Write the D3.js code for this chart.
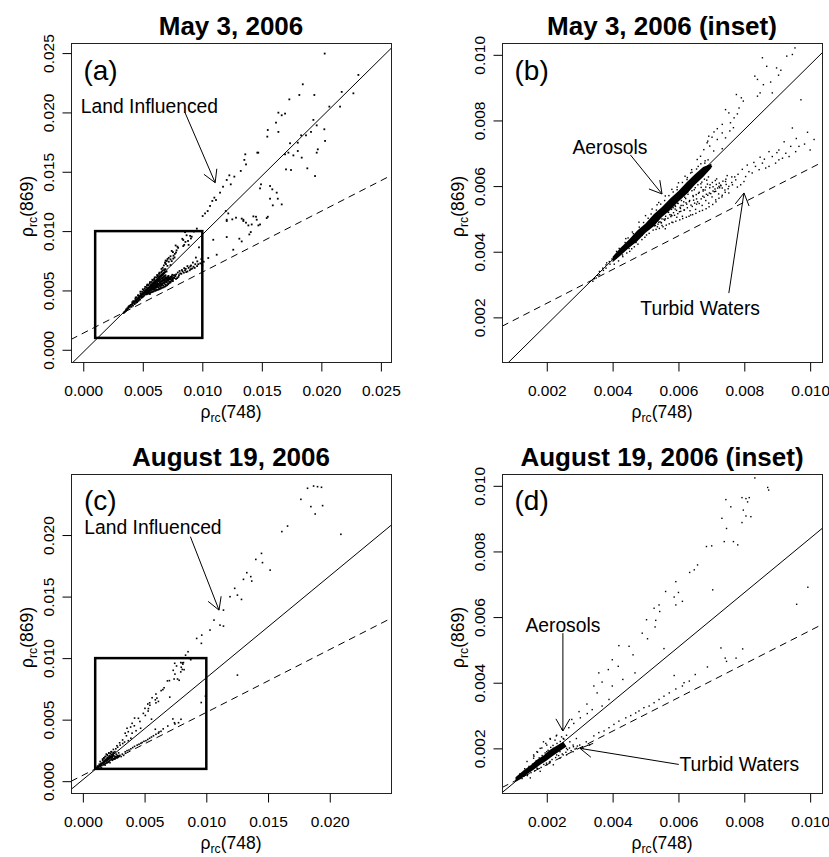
<!doctype html>
<html lang="en">
<head>
<meta charset="utf-8">
<title>rho_rc(748) vs rho_rc(869)</title>
<script src="https://cdnjs.cloudflare.com/ajax/libs/d3/7.8.5/d3.min.js"></script>
<style>
  body { margin: 0; background: #fff; }
  svg text { font-family: "Liberation Sans", Arial, sans-serif; fill: #000; }
</style>
</head>
<body>
<svg id="chart" width="829" height="857"></svg>
<script>

// ---- data ----

// tick values
const fullTicksMay = [0, 0.005, 0.010, 0.015, 0.020, 0.025]
const fullTicksAug = [0, 0.005, 0.010, 0.015, 0.020]
const insetTicks = [0.002, 0.004, 0.006, 0.008, 0.010]

// axis ranges
const domainMay = [-0.00103, 0.02585]
const domainAug = [-0.00096, 0.02496]
const domainInset = [0.00064, 0.01036]

// square drawn on the full views = area of the inset
const insetBox = [0.001, 0.010]

// fitted lines [slope, intercept]: solid = aerosol, dashed = turbid water
const may3Solid = [0.99, -0.0002]
const may3Dashed = [0.514, 0.0014]
const aug19Solid = [0.828, 0.00012]
const aug19Dashed = [0.511, 0.00048]

// outline of the saturated part of the dense cluster
const may3Core = [
  [0.0040,0.00385],[0.00425,0.00413],[0.0045,0.00437],[0.00475,0.00465],[0.0050,0.00486],
  [0.00525,0.00514],[0.0055,0.00536],[0.00575,0.00562],[0.0060,0.00585],[0.00625,0.00612],
  [0.0065,0.00636],[0.00675,0.00658],[0.0070,0.00668],
  [0.0070,0.00655],[0.00675,0.00628],[0.0065,0.00604],[0.00625,0.00576],[0.0060,0.00553],
  [0.00575,0.00527],[0.0055,0.00506],[0.00525,0.00478],[0.0050,0.00458],[0.00475,0.00432],
  [0.0045,0.00412],[0.00425,0.00389],[0.0040,0.00368]
]
const aug19Core = [
  [0.00105,0.00112],[0.0013,0.00133],[0.0015,0.00148],[0.0017,0.00165],[0.0019,0.00178],
  [0.0021,0.00196],[0.0023,0.00208],[0.0025,0.00220],
  [0.0026,0.00206],[0.0024,0.00192],[0.0022,0.00178],[0.0020,0.00163],[0.0018,0.00150],
  [0.0016,0.00135],[0.0014,0.00121],[0.0012,0.00106],[0.00105,0.00098]
]

// individual pixels [rho748, rho869]
const may3Points = [
  // land influenced, outside the inset
  [0.02028,0.02496],[0.02311,0.02316],[0.01844,0.02237],[0.01815,0.02147],[0.01941,0.02147],
  [0.02171,0.02173],[0.02269,0.02161],[0.01731,0.0211],[0.02067,0.02049],[0.02157,0.02049],
  [0.01639,0.01998],[0.01695,0.0199],[0.01667,0.01976],[0.01933,0.01937],[0.01961,0.01891],
  [0.01913,0.01836],[0.02025,0.01858],[0.02031,0.0176],[0.01619,0.01914],[0.0155,0.01852],
  [0.01639,0.01836],[0.01546,0.01796],[0.0183,0.01807],[0.01871,0.01807],[0.01802,0.01745],
  [0.01737,0.0174],[0.01723,0.01661],[0.01765,0.01638],[0.01802,0.01675],[0.01835,0.01619],
  [0.01695,0.01647],[0.0197,0.01689],[0.01961,0.01661],[0.01882,0.01529],[0.01703,0.0152],
  [0.01745,0.01515],[0.01947,0.01464],[0.01361,0.01647],[0.01353,0.016],[0.01367,0.01562],
  [0.01462,0.01661],[0.0147,0.01661],[0.01323,0.01507],[0.01269,0.01459],[0.01227,0.0147],
  [0.01205,0.01431],[0.01239,0.01394],[0.01174,0.01374],[0.01493,0.01394],[0.01485,0.0136],
  [0.01569,0.0138],[0.01588,0.01352],[0.01625,0.01324],[0.01569,0.01273],[0.01592,0.01217],
  [0.01667,0.01225],[0.01634,0.01273],[0.01149,0.01324],[0.01101,0.01282],[0.01084,0.01254],
  [0.01115,0.01262],[0.01065,0.01212],[0.01045,0.01169],[0.01023,0.01149],[0.01003,0.01127],
  [0.01197,0.01169],[0.01218,0.01149],[0.01252,0.01099],[0.01205,0.01085],[0.01283,0.01113],
  [0.01331,0.01105],[0.01345,0.01085],[0.01367,0.01071],[0.01387,0.01048],[0.01415,0.01056],
  [0.01451,0.01121],[0.01471,0.01048],[0.01485,0.01056],[0.01407,0.00992],[0.01395,0.00972],
  [0.0155,0.01121],[0.01205,0.0095],[0.01311,0.00936],[0.01331,0.00913],[0.01205,0.01096],
  [0.0126,0.00843],[0.01092,0.00927],[0.01121,0.00801],[0.0105,0.00773],[0.01541,0.0111],
  [0.01429,0.01124],[0.01457,0.01096],[0.01345,0.01096],
  // upper part of the inset
  [0.00954,0.01021],[0.00929,0.00996],[0.00946,0.01001],[0.00855,0.00991],[0.00868,0.00965],
  [0.00898,0.0096],[0.00911,0.00953],[0.00904,0.00938],[0.0088,0.00917],[0.00832,0.00935],
  [0.0084,0.00925],[0.00858,0.00909],[0.00848,0.00884],[0.0084,0.00874],[0.00885,0.00884],
  [0.00776,0.00879],[0.00791,0.00869],[0.00797,0.00859],[0.00784,0.00838],[0.00743,0.00833],
  [0.00753,0.00823],[0.00779,0.0082],[0.00769,0.00808],[0.00758,0.00793],[0.00767,0.00778],
  [0.00756,0.00768],[0.00733,0.00762],[0.00743,0.00747],[0.00718,0.00742],[0.00702,0.00749],
  [0.00689,0.00737],[0.00695,0.00722],[0.00707,0.00707],[0.00733,0.00714],
  [0.00692,0.00752],[0.00708,0.00765],[0.00718,0.00775],[0.00733,0.00788],[0.00687,0.00732],
  [0.00677,0.00711],[0.00667,0.00691],[0.00657,0.00681],
  [0.00535,0.00543],[0.00566,0.00538],[0.00596,0.00589],[0.00626,0.0062],[0.00637,0.0064],
  // turbid water branch
  [0.00992,0.00764],[0.00972,0.00863],[0.00946,0.00777],[0.0100,0.0071],[0.00966,0.00721],
  [0.00956,0.00705],[0.00941,0.00721],[0.00936,0.0069],[0.00926,0.007],[0.00916,0.00685],
  [0.00905,0.0068],[0.00895,0.0067],[0.00885,0.0069],[0.00875,0.0066],[0.00865,0.00655],
  [0.00855,0.0067],[0.00845,0.0065],[0.00834,0.0066],[0.00824,0.0064],[0.00814,0.00644],
  [0.00804,0.00629],[0.00799,0.00614],[0.00789,0.00604],[0.00774,0.00619],[0.00764,0.00604],
  [0.00753,0.00599],[0.00743,0.00614],[0.00733,0.00594],[0.00723,0.00599],[0.00713,0.00584],
  [0.00905,0.0071],[0.00875,0.00705],[0.00921,0.00735],[0.00861,0.00682],[0.00829,0.00672],
  [0.00794,0.00651],[0.00781,0.00636],[0.00809,0.00664],[0.00762,0.00628],[0.00748,0.00632],
  [0.01012,0.00742],[0.00983,0.00728],[0.00958,0.00745],[0.00899,0.00702],[0.00848,0.00688],
  // fan under the dense band
  [0.0056,0.0050],[0.0057,0.0052],[0.0058,0.0051],[0.0059,0.0053],[0.0058,0.0049],
  [0.00603,0.00522],[0.00597,0.00548],[0.00612,0.00508],[0.00608,0.00541],[0.00622,0.00562],
  [0.00618,0.00527],[0.00633,0.00553],[0.00628,0.00582],[0.00637,0.00512],[0.00642,0.00538],
  [0.00644,0.00571],[0.00639,0.00598],[0.00652,0.00529],[0.00655,0.00561],[0.00648,0.00589],
  [0.00663,0.00547],[0.00661,0.00578],[0.00668,0.00607],[0.00672,0.00541],[0.00674,0.00569],
  [0.00669,0.00596],[0.00683,0.00556],[0.00681,0.00588],[0.00686,0.00618],[0.00692,0.00548],
  [0.00694,0.00579],[0.00688,0.00606],[0.00702,0.00567],[0.00705,0.00598],[0.00713,0.00558],
  [0.00711,0.00591],[0.00716,0.00622],[0.00722,0.00576],[0.00724,0.00609],[0.00732,0.00567],
  [0.00729,0.00601],[0.00741,0.00588],[0.00744,0.00621],[0.00753,0.00579],[0.00762,0.00611],
  [0.00771,0.00628],[0.00779,0.00597],[0.00587,0.00561],[0.00601,0.00569],[0.00571,0.00539],
  [0.0055,0.0048],[0.0054,0.0049],[0.0056,0.0047],[0.00621,0.00588],[0.00611,0.00578],
  [0.00631,0.00606],[0.00643,0.00619],[0.00655,0.00545],[0.00625,0.00545],[0.00605,0.00535],
  [0.00595,0.00505],[0.00635,0.00525],[0.00675,0.00585],[0.00685,0.00575],[0.00695,0.00595],
  [0.00705,0.00585],[0.00715,0.00605],[0.00725,0.00595],[0.00735,0.00615],[0.00745,0.00605],
  [0.00578,0.00512],[0.00566,0.00527],[0.00584,0.00534],[0.00616,0.00552],[0.00646,0.00557],
  [0.00532,0.00468],[0.00527,0.00479],[0.00542,0.00471],[0.00538,0.00484],[0.00544,0.00491],
  [0.00553,0.00476],[0.00548,0.00489],[0.00556,0.00499],[0.00563,0.00481],[0.00558,0.00496],
  [0.00561,0.00508],[0.00572,0.00485],[0.00568,0.00502],[0.00574,0.00513],[0.00569,0.0052],
  [0.00583,0.00489],[0.00577,0.00507],[0.00585,0.00519],[0.00579,0.00529],[0.00592,0.00493],
  [0.00588,0.00511],[0.00594,0.00526],[0.00591,0.00538],[0.00604,0.00497],[0.00598,0.00516],
  [0.00606,0.00532],[0.00599,0.00547],[0.00613,0.00501],[0.00607,0.00523],[0.00614,0.00541],
  [0.00609,0.00556],[0.00624,0.00505],[0.00617,0.00527],[0.00623,0.00549],[0.00619,0.00566],
  [0.00632,0.00508],[0.00627,0.00534],[0.00634,0.00556],[0.00629,0.00575],[0.00643,0.00513],
  [0.00638,0.00542],[0.00645,0.00568],[0.00641,0.00586],[0.00653,0.00517],[0.00649,0.00548],
  [0.00654,0.00574],[0.00651,0.00595],[0.00664,0.00523],[0.00658,0.00552],[0.00663,0.00581],
  [0.00659,0.00604],[0.00673,0.00526],[0.00669,0.00561],[0.00675,0.00589],[0.00671,0.00612],
  [0.00684,0.00531],[0.00678,0.00566],[0.00683,0.00597],[0.00679,0.00621],[0.00693,0.00537],
  [0.00689,0.00572],[0.00696,0.00604],[0.00691,0.00628],[0.00704,0.00544],[0.00698,0.00577],
  [0.00703,0.00611],[0.00714,0.00552],[0.00709,0.00583],[0.00712,0.00617],[0.00723,0.00563],
  [0.00719,0.00594],[0.00733,0.00572],[0.00728,0.00603],[0.00742,0.00581],[0.00751,0.00592],
  // speckle around the band and the lower tail
  [0.0042,0.0041],[0.0044,0.0044],[0.0046,0.0046],[0.0047,0.0043],[0.0048,0.0049],
  [0.0049,0.0045],[0.0050,0.0051],[0.0051,0.0047],[0.0052,0.0053],[0.0053,0.0048],
  [0.0054,0.0055],[0.0055,0.0050],[0.0056,0.0057],[0.0045,0.0041],[0.0043,0.0039],
  [0.0041,0.0038],[0.0058,0.0059],[0.0060,0.0061],[0.0062,0.0063],[0.0064,0.0065],
  [0.0066,0.0066],[0.0068,0.0067],[0.0069,0.0068],[0.0070,0.0066],[0.0059,0.0054],
  [0.0057,0.0055],[0.0034,0.0031],[0.0035,0.0032],[0.0036,0.0033],[0.0037,0.0035],
  [0.0038,0.0036],[0.0039,0.0037],[0.0036,0.0034],[0.0038,0.0035],[0.00345,0.00318],
  [0.00355,0.00328],[0.00372,0.00343],[0.00392,0.00362],[0.00398,0.00378],[0.00382,0.00366],
  [0.00412,0.00401],[0.00438,0.00428],[0.00447,0.00442],[0.00463,0.00455],[0.00481,0.00475],
  [0.00494,0.00489],[0.00508,0.00502],[0.00517,0.00515],[0.00533,0.00527],[0.00546,0.00545],
  [0.00558,0.00556],[0.00571,0.00571],[0.00584,0.00582],[0.00596,0.00597],[0.00612,0.00611],
  [0.00627,0.00626],[0.00641,0.00642],[0.00655,0.00652],[0.00668,0.00668],[0.00681,0.00677],
  [0.00405,0.00362],[0.00418,0.00372],[0.00431,0.00385],[0.00443,0.00396],[0.00452,0.00401],
  [0.00466,0.00415],[0.00477,0.00423],[0.00489,0.00437],[0.00498,0.00444],[0.00511,0.00456],
  [0.00523,0.00466],[0.00536,0.00476],[0.00548,0.00488],[0.00471,0.00428],[0.00458,0.00409],
  [0.00503,0.00451]
]

const aug19Points = [
  // land influenced, outside the inset
  [0.0182,0.0238],[0.01869,0.02398],[0.01901,0.02393],[0.01933,0.02388],[0.01766,0.0229],
  [0.01847,0.02231],[0.01942,0.02239],[0.01882,0.02171],[0.01658,0.02073],[0.01612,0.02028],
  [0.0209,0.02006],[0.01447,0.01851],[0.01401,0.01802],[0.01455,0.01776],[0.01517,0.01715],
  [0.01328,0.01694],[0.0136,0.01662],[0.01301,0.0164],[0.01368,0.01626],[0.0123,0.01567],
  [0.01192,0.01499],[0.01252,0.01512],[0.01285,0.01477],[0.01139,0.0139],[0.01062,0.01309],
  [0.01111,0.01268],[0.01139,0.0126],[0.0103,0.01228],[0.00963,0.01187],[0.00922,0.0116],
  [0.0096,0.0112],[0.00852,0.01052],[0.01252,0.00862],
  // inside the inset, above the solid line
  [0.00832,0.01024],[0.00871,0.00995],[0.00874,0.00987],[0.00744,0.00958],[0.00793,0.00964],
  [0.00805,0.00961],[0.00815,0.00964],[0.0081,0.00951],[0.00759,0.00936],[0.00797,0.00926],
  [0.00805,0.00908],[0.0082,0.00906],[0.00793,0.00888],[0.00732,0.00901],[0.00746,0.0087],
  [0.00739,0.0083],[0.00767,0.0083],[0.0078,0.0082],[0.00701,0.00817],[0.00685,0.00815],
  [0.00658,0.00759],[0.00648,0.00744],[0.00634,0.00736],[0.00592,0.00708],[0.00561,0.00678],
  [0.006,0.00675],[0.00587,0.00661],[0.00612,0.00648],[0.00592,0.00637],[0.00541,0.00637],
  [0.00526,0.00627],[0.00543,0.00617],[0.00503,0.00592],[0.00531,0.0059],[0.00529,0.0057],
  [0.0049,0.00551],[0.00506,0.00534],[0.00419,0.00513],[0.0045,0.00511],[0.00462,0.00485],
  [0.00556,0.00504],[0.00399,0.0047],[0.00417,0.0045],[0.00387,0.0044],[0.00358,0.0043],
  [0.00368,0.00402],[0.00343,0.0039],[0.00353,0.00369],[0.00399,0.0039],[0.00431,0.0041],
  [0.00468,0.0043],[0.00389,0.00349],[0.00368,0.00329],[0.00338,0.00318],[0.00323,0.00306],
  [0.00302,0.00293],[0.00282,0.00276],[0.00267,0.00263],[0.00298,0.00312],[0.00276,0.00288],
  [0.00322,0.00335],[0.00247,0.00258],
  // below the solid line (turbid branch)
  [0.00993,0.00691],[0.00959,0.00639],[0.00795,0.00503],[0.00742,0.00475],[0.00746,0.00465],
  [0.00775,0.00475],[0.00729,0.00506],[0.00688,0.00448],[0.00704,0.00683],[0.00651,0.00425],
  [0.00633,0.00405],[0.00617,0.004],[0.00612,0.0039],[0.00592,0.00381],[0.00587,0.00422],
  [0.00572,0.00369],[0.00556,0.00359],[0.00541,0.00349],[0.00526,0.00339],[0.00511,0.00329],
  [0.00495,0.00324],[0.0048,0.00314],[0.0047,0.00308],[0.00455,0.003],[0.0044,0.00293],
  [0.00419,0.00283],[0.00404,0.00273],[0.00389,0.00263],[0.00374,0.00253],[0.00358,0.00248],
  [0.00343,0.00238],
  // speckle round the dense cluster
  [0.0014,0.0016],[0.0016,0.0018],[0.0018,0.0020],[0.0019,0.0022],[0.0020,0.0019],
  [0.0021,0.0023],[0.0022,0.0020],[0.0023,0.0024],[0.0024,0.0021],[0.0025,0.0023],
  [0.0026,0.0020],[0.0026,0.0024],[0.0027,0.0022],[0.0028,0.0021],[0.0028,0.0019],
  [0.0029,0.0020],[0.0030,0.0021],[0.0031,0.0020],[0.0017,0.0014],[0.0018,0.0013],
  [0.0020,0.0015],[0.0021,0.0016],[0.0022,0.0015],[0.0023,0.0018],[0.0024,0.0017],
  [0.0025,0.0018],[0.0026,0.0018],[0.0015,0.0011],[0.0013,0.00115],[0.0011,0.0011],
  [0.0012,0.0012],[0.0020,0.0021],[0.0017,0.0019],[0.0019,0.0017],[0.0021,0.0018],
  [0.0024,0.0019],[0.0016,0.0017],[0.00225,0.00225],[0.00245,0.00235],[0.0029,0.0023],
  [0.0032,0.0022],[0.0033,0.0021],
  [0.00118,0.00122],[0.00125,0.00108],[0.00133,0.00138],[0.00141,0.00117],[0.00146,0.00145],
  [0.00152,0.00126],[0.00157,0.00152],[0.00163,0.00131],[0.00168,0.00162],[0.00172,0.00138],
  [0.00177,0.00171],[0.00183,0.00142],[0.00186,0.00178],[0.00191,0.00151],[0.00195,0.00186],
  [0.00199,0.00155],[0.00204,0.00194],[0.00208,0.00158],[0.00212,0.00203],[0.00216,0.00166],
  [0.00219,0.00209],[0.00227,0.00172],[0.00231,0.00215],[0.00236,0.00178],[0.00241,0.00221],
  [0.00247,0.00183],[0.00252,0.00228],[0.00258,0.00188],[0.00263,0.00196],[0.00269,0.00201],
  [0.00274,0.00193],[0.00281,0.00205],[0.00286,0.00198],[0.00293,0.00207],[0.00211,0.00228],
  [0.00197,0.00215],[0.00185,0.00201],[0.00229,0.00238],[0.00172,0.00188],[0.00161,0.00176]
]

// ---- layout ----
const svg = d3.select("#chart")
const fontTick = 15.5, fontLabel = 17.5, fontNote = 19.3, fontTag = 28, fontTitle = 26

const panels = [
  { id: "a", title: "May 3, 2006", left: 71, right: 391, top: 43, bottom: 362,
    domain: domainMay, ticks: fullTicksMay, points: may3Points, core: may3Core,
    solid: may3Solid, dashed: may3Dashed, showBox: true, dot: 1.8,
    tag: [0.00145, 0.02277],
    notes: [{ text: "Land Influenced", at: [0.00556, 0.01998], arrow: [0.00855, 0.01998, 0.01108, 0.01408] }] },
  { id: "b", title: "May 3, 2006 (inset)", left: 502, right: 822, top: 43, bottom: 362,
    domain: domainInset, ticks: insetTicks, points: may3Points, core: may3Core,
    solid: may3Solid, dashed: may3Dashed, showBox: false, dot: 1.4,
    tag: [0.00154, 0.00924],
    notes: [{ text: "Aerosols", at: [0.00392, 0.00698], arrow: [0.00454, 0.00695, 0.0055, 0.00576] },
            { text: "Turbid Waters", at: [0.00666, 0.00208], arrow: [0.00753, 0.00274, 0.00799, 0.00579] }] },
  { id: "c", title: "August 19, 2006", left: 71, right: 391, top: 474, bottom: 793,
    domain: domainAug, ticks: fullTicksAug, points: aug19Points, core: aug19Core,
    solid: aug19Solid, dashed: aug19Dashed, showBox: true, dot: 1.6,
    tag: [0.00142, 0.02203],
    notes: [{ text: "Land Influenced", at: [0.00568, 0.02006], arrow: [0.00871, 0.01987, 0.01103, 0.0139] }] },
  { id: "d", title: "August 19, 2006 (inset)", left: 502, right: 822, top: 474, bottom: 793,
    domain: domainInset, ticks: insetTicks, points: aug19Points, core: aug19Core,
    solid: aug19Solid, dashed: aug19Dashed, showBox: false, dot: 1.4,
    tag: [0.00154, 0.00926],
    notes: [{ text: "Aerosols", at: [0.00249, 0.00554], arrow: [0.00249, 0.00551, 0.00249, 0.00253] },
            { text: "Turbid Waters", at: [0.00785, 0.00131], arrow: [0.00601, 0.00151, 0.00301, 0.002] }] }
]

panels.forEach(drawPanel)

function drawPanel(p) {
  const x = d3.scaleLinear().domain(p.domain).range([p.left, p.right])
  const y = d3.scaleLinear().domain(p.domain).range([p.bottom, p.top])
  const g = svg.append("g")

  svg.append("clipPath").attr("id", "clip-" + p.id)
    .append("rect")
      .attr("x", p.left).attr("y", p.top)
      .attr("width", p.right - p.left).attr("height", p.bottom - p.top)

  const plot = g.append("g").attr("clip-path", "url(#clip-" + p.id + ")")

  // dense cluster
  plot.append("path")
    .datum(p.core)
    .attr("d", d3.line().x(d => x(d[0])).y(d => y(d[1])).curve(d3.curveLinearClosed))
    .attr("fill", "#000")

  // pixels
  const r = p.dot / 2
  plot.selectAll("rect.pt")
    .data(p.points)
    .join("rect")
      .attr("class", "pt")
      .attr("x", d => x(d[0]) - r)
      .attr("y", d => y(d[1]) - r)
      .attr("width", p.dot).attr("height", p.dot)
      .attr("fill", "#000")

  // fitted lines
  const [d0, d1] = p.domain
  const abline = (coef, dash) => plot.append("line")
    .attr("x1", x(d0)).attr("y1", y(coef[0] * d0 + coef[1]))
    .attr("x2", x(d1)).attr("y2", y(coef[0] * d1 + coef[1]))
    .attr("stroke", "#000").attr("stroke-width", 1)
    .attr("stroke-dasharray", dash)
  abline(p.solid, null)
  abline(p.dashed, "7,5")

  // inset area
  if (p.showBox) {
    g.append("rect")
      .attr("x", x(insetBox[0])).attr("y", y(insetBox[1]))
      .attr("width", x(insetBox[1]) - x(insetBox[0]))
      .attr("height", y(insetBox[0]) - y(insetBox[1]))
      .attr("fill", "none").attr("stroke", "#000").attr("stroke-width", 2.5)
  }

  // frame
  g.append("rect")
    .attr("x", p.left + 0.5).attr("y", p.top + 0.5)
    .attr("width", p.right - p.left).attr("height", p.bottom - p.top)
    .attr("fill", "none").attr("stroke", "#222").attr("stroke-width", 1)

  // axes
  const fmt = d3.format(".3f")
  const xAxis = g.append("g")
    .attr("transform", "translate(0," + (p.bottom + 0.5) + ")")
    .call(d3.axisBottom(x).tickValues(p.ticks).tickSize(9).tickFormat(fmt))
  xAxis.select(".domain").remove()
  xAxis.selectAll("text")
    .attr("y", 33).attr("dy", null)
    .attr("font-size", fontTick).attr("font-family", null)

  const yAxis = g.append("g")
    .attr("transform", "translate(" + (p.left + 0.5) + ",0)")
    .call(d3.axisLeft(y).tickValues(p.ticks).tickSize(9).tickFormat(fmt))
  yAxis.select(".domain").remove()
  yAxis.selectAll("text")
    .attr("x", 0).attr("y", 0).attr("dy", null)
    .attr("text-anchor", "middle")
    .attr("transform", "translate(-18,0) rotate(-90)")
    .attr("font-size", fontTick).attr("font-family", null)
  g.selectAll(".tick line").attr("stroke", "#000")

  // axis titles
  const cx = (p.left + p.right) / 2, cy = (p.top + p.bottom) / 2
  rhoLabel(g.append("text")
    .attr("x", cx).attr("y", p.bottom + 56)
    .attr("text-anchor", "middle"), "748")
  rhoLabel(g.append("text")
    .attr("text-anchor", "middle")
    .attr("transform", "translate(" + (p.left - 38) + "," + (cy + 4) + ") rotate(-90)"), "869")

  // title
  g.append("text")
    .attr("x", cx).attr("y", p.top - 8)
    .attr("text-anchor", "middle")
    .attr("font-size", fontTitle).attr("font-weight", "bold")
    .text(p.title)

  // panel tag
  g.append("text")
    .attr("x", x(p.tag[0])).attr("y", y(p.tag[1]))
    .attr("text-anchor", "middle")
    .attr("font-size", fontTag)
    .text("(" + p.id + ")")

  // annotations with open arrows
  p.notes.forEach(n => {
    g.append("text")
      .attr("x", x(n.at[0])).attr("y", y(n.at[1]))
      .attr("text-anchor", "middle")
      .attr("font-size", fontNote)
      .text(n.text)
    arrow(g, x(n.arrow[0]), y(n.arrow[1]), x(n.arrow[2]), y(n.arrow[3]))
  })
}

function rhoLabel(t, band) {
  t.attr("font-size", fontLabel)
  t.append("tspan").text("\u03c1")
  t.append("tspan").attr("font-size", fontLabel * 0.7).attr("dy", 4).text("rc")
  t.append("tspan").attr("dy", -4).text("(" + band + ")")
}

function arrow(g, x1, y1, x2, y2) {
  const len = 14, spread = Math.PI / 6
  const ang = Math.atan2(y2 - y1, x2 - x1)
  const head = [ang + Math.PI - spread, ang + Math.PI + spread]
    .map(a => [x2 + len * Math.cos(a), y2 + len * Math.sin(a)])
  g.append("line")
    .attr("x1", x1).attr("y1", y1).attr("x2", x2).attr("y2", y2)
    .attr("stroke", "#000").attr("stroke-width", 1)
  g.append("path")
    .attr("d", "M" + head[0] + "L" + x2 + "," + y2 + "L" + head[1])
    .attr("fill", "none").attr("stroke", "#000").attr("stroke-width", 1)
}

</script>
</body>
</html>
